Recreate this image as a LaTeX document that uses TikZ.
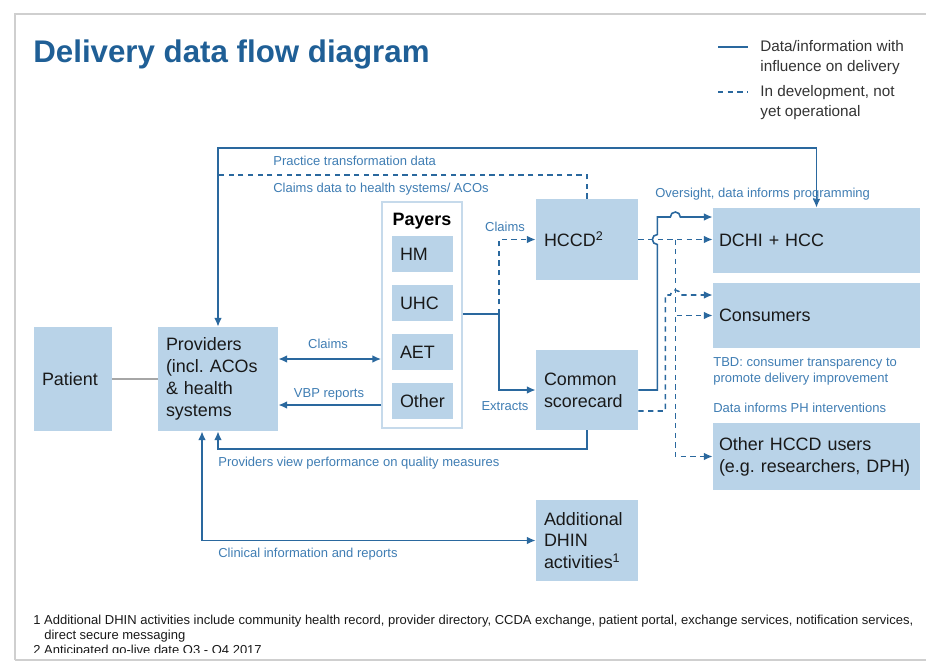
\documentclass[tikz,border=0pt]{standalone}
\usepackage{fontspec}
\setmainfont{Liberation Sans}
\usepackage{xcolor}
\usetikzlibrary{arrows.meta}
\usetikzlibrary{positioning}
\usetikzlibrary{calc}
\frenchspacing

\definecolor{boxblue}{HTML}{B9D3E8}
\definecolor{frameblue}{HTML}{C6DAEB}
\definecolor{lineblue}{HTML}{2A689E}
\definecolor{labelblue}{HTML}{3F7DB3}
\definecolor{titleblue}{HTML}{1F5F96}
\definecolor{edgegray}{HTML}{CFCFCF}

\begin{document}
\begin{tikzpicture}[x=0.02cm,y=-0.02cm,>={Latex[length=5pt,width=4.4pt]},
  box/.style={fill=boxblue, text=black!90, align=left, inner xsep=0.16cm,
    inner ysep=0pt, font=\fontsize{10.2}{12.4}\selectfont},
  midbox/.style={box, text width=1.72cm, minimum height=1.62cm},
  widebox/.style={box, inner xsep=0.12cm, text width=3.9cm, minimum height=1.3cm},
  payer/.style={box, text width=0.9cm, minimum height=0.72cm},
  flow/.style={draw=lineblue, line width=0.9pt},
  dev/.style={flow, dash pattern=on 3pt off 2.5pt},
  lbl/.style={text=labelblue, inner sep=0pt, anchor=base west,
    font=\fontsize{7.4}{9.1}\selectfont},
  legendtxt/.style={text=black!80, inner sep=0pt, anchor=west, align=left,
    font=\fontsize{8.7}{11.4}\selectfont},
  note/.style={text=black!90, inner sep=0pt, anchor=base west,
    font=\fontsize{7.4}{8.5}\selectfont}]

  \useasboundingbox (0,0) rectangle (926,667);

  % slide edge
  \draw[edgegray, line width=1.4pt] (15,660) -- (15,14) -- (926,14);
  \draw[edgegray, line width=1pt] (15,660) -- (926,660);

  % title and legend
  \node[anchor=base west, inner sep=0pt, text=titleblue,
    font=\bfseries\fontsize{17.8}{20}\selectfont] (title) at (33,62)
    {Delivery data flow diagram};

  \coordinate (lgsolid) at (718,47);
  \coordinate (lgdash)  at (718,92);
  \draw[flow] (lgsolid) -- ++(30,0);
  \draw[dev]  (lgdash)  -- ++(30,0);
  \node[legendtxt] (lgone) at (760,58) {Data/information with\\influence on delivery};
  \node[legendtxt] (lgtwo) at (760,103) {In development, not\\yet operational};

  % boxes
  \node[box, text width=1.24cm, minimum height=2.08cm] (patient) at (73,379) {Patient};
  \node[box, text width=2.08cm, minimum height=2.08cm] (providers) at (218,379)
    {Providers\\(incl. ACOs\\\& health\\systems};

  \node[draw=frameblue, line width=1pt, fill=white, inner sep=0pt,
    minimum width=1.6cm, minimum height=4.52cm] (payers) at (422,315) {};
  \node[anchor=base, inner sep=0pt, font=\bfseries\fontsize{10.2}{12}\selectfont]
    (payerstitle) at (422,225) {Payers};
  \node[payer] (hm)    at (422.5,254) {HM};
  \node[payer] (uhc)   at (422.5,303) {UHC};
  \node[payer] (aet)   at (422.5,352) {AET};
  \node[payer] (other) at (422.5,401) {Other};

  \node[midbox] (hccd) at (587,239.5) {HCCD\textsuperscript{2}};
  \node[midbox, minimum height=1.6cm] (scorecard) at (587,390) {Common\\scorecard};
  \node[midbox] (dhin) at (587,540.5) {Additional\\DHIN\\activities\textsuperscript{1}};

  \node[widebox] (dchi)      at (816.5,240.5) {DCHI + HCC};
  \node[widebox] (consumers) at (816.5,315.5) {Consumers};
  \node[widebox, minimum height=1.34cm] (otherusers) at (816.5,456.5)
    {Other HCCD users\\(e.g. researchers, DPH)};

  % bend points of the connectors
  \coordinate (ptop)  at (0,148);   % practice transformation data
  \coordinate (cdata) at (0,175);   % claims data to providers
  \coordinate (clm)   at (0,359);
  \coordinate (vbp)   at (0,405);
  \coordinate (split) at (499,314);
  \coordinate (perf)  at (0,449);
  \coordinate (clin)  at (202,540);

  \draw[gray!70, line width=0.9pt] (patient) -- (providers);

  \draw[flow,<->] (providers.north) |- (ptop -| dchi.north) -- (dchi.north);
  \draw[dev] (hccd.north) |- (cdata -| providers.north);

  \draw[flow,<->] (providers.east |- clm) -- (payers.west |- clm);
  \draw[flow,->] (payers.west |- vbp) -- (providers.east |- vbp);

  \draw[flow,->] (payers.east |- split) -- (split) |- (scorecard.west);
  \draw[dev,->] (split) |- (hccd.west);

  \draw[flow,->] (scorecard.south) |- (perf -| providers.south) -- (providers.south);
  \draw[flow,<->] (providers.south -| clin) |- (dhin.west);

  % scorecard to DCHI, hopping over the dashed lines
  \draw[flow,->] (scorecard.east) -- ++(19,0) -- ++(0,-145.5) arc (90:270:5)
    -- ++(0,-17.5) -- ++(13,0) arc (180:360:5) -- ([yshift=0.47cm]dchi.west);

  % HCCD to the users
  \draw[dev,->] (hccd.east) -- (hccd.east -| dchi.west);
  \path (hccd.east) ++(37,0) coordinate (hub);
  \draw[dev,->] (hub) |- (consumers.west);
  \draw[dev,->] (hub) |- (otherusers.west);

  \draw[dev,->] ([yshift=-0.42cm]scorecard.east) -- ++(27,0) -- ++(0,-116)
    -- ++(5,0) arc (180:360:5) -- ([yshift=0.41cm]consumers.west);

  % connector labels
  \node[lbl] (lptd)   at (273,165) {Practice transformation data};
  \node[lbl] (lcdata) at (273,192) {Claims data to health systems/ ACOs};
  \node[lbl, anchor=base] (lclaimsa) at (505,231) {Claims};
  \node[lbl] (lover)  at (655,197) {Oversight, data informs programming};
  \node[lbl, anchor=base] (lclaimsb) at (328,348) {Claims};
  \node[lbl, anchor=base] (lvbp) at (329,397) {VBP reports};
  \node[lbl, anchor=base] (lext) at (505,410) {Extracts};
  \node[lbl] (lperf)  at (218,466) {Providers view performance on quality measures};
  \node[lbl, anchor=west, align=left] (ltbd) at (713,371)
    {TBD: consumer transparency to\\promote delivery improvement};
  \node[lbl] (lph)    at (713,412) {Data informs PH interventions};
  \node[lbl] (lclin)  at (218,557) {Clinical information and reports};

  % footnotes, cut off at the bottom
  \begin{scope}
    \clip (0,0) rectangle (926,652);
    \node[note] (fnone) at (33,624) {1 Additional DHIN activities include community health record, provider directory, CCDA exchange, patient portal, exchange services, notification services,};
    \node[note] (fnonecont) at (44,639) {direct secure messaging};
    \node[note] (fntwo) at (33,654) {2 Anticipated go-live date Q3 - Q4 2017};
  \end{scope}

\end{tikzpicture}
\end{document}
